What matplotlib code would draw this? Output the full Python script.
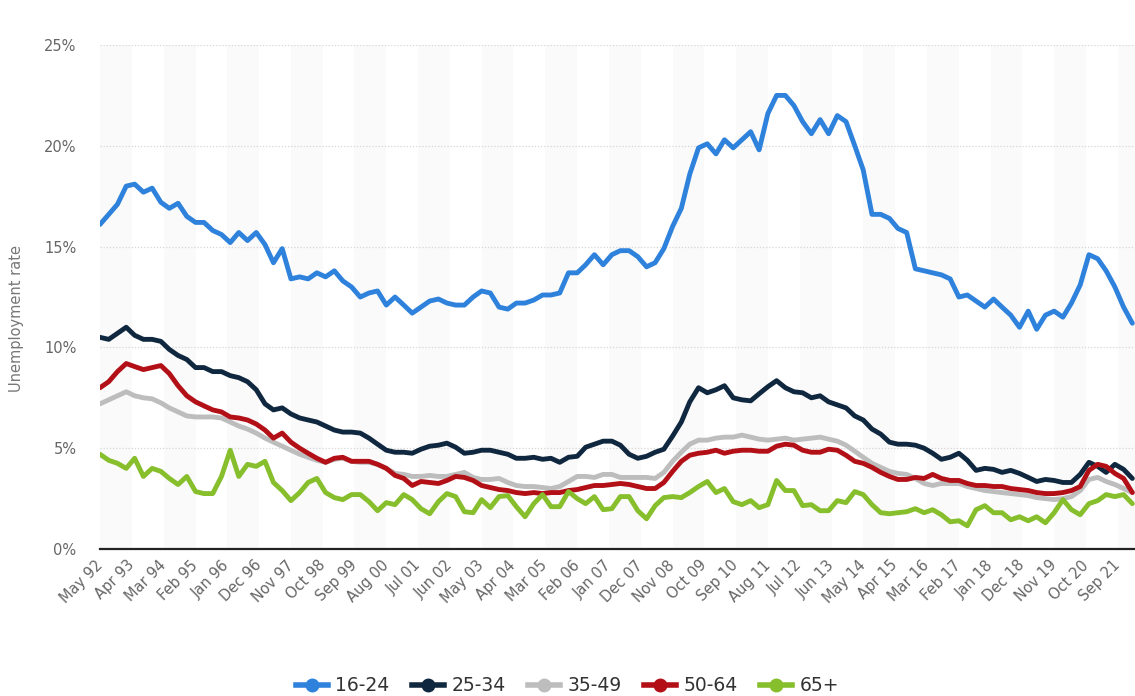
import matplotlib
matplotlib.use('Agg')
import matplotlib.pyplot as plt
import matplotlib.dates as mdates
from matplotlib.lines import Line2D
import pandas as pd

# Unemployment rate in % by age group, read every third month from May 1992
age_16_24 = [16.1, 16.6, 17.1, 18.0, 18.1, 17.7, 17.9, 17.2, 16.9, 17.15, 16.5, 16.2, 16.2, 15.8, 15.6, 15.2, 15.7, 15.3, 15.7, 15.1,
             14.2, 14.9, 13.4, 13.5, 13.4, 13.7, 13.5, 13.8, 13.3, 13.0, 12.5, 12.7, 12.8, 12.1, 12.5, 12.1, 11.7, 12.0, 12.3, 12.4,
             12.2, 12.1, 12.1, 12.5, 12.8, 12.7, 12.0, 11.9, 12.2, 12.2, 12.35, 12.6, 12.6, 12.7, 13.7, 13.7, 14.1, 14.6, 14.1, 14.6,
             14.8, 14.8, 14.5, 14.0, 14.2, 14.9, 16.0, 16.9, 18.6, 19.9, 20.1, 19.6, 20.3, 19.9, 20.3, 20.7, 19.8, 21.6, 22.5, 22.5,
             22.0, 21.2, 20.6, 21.3, 20.6, 21.5, 21.2, 20.0, 18.8, 16.6, 16.6, 16.4, 15.9, 15.7, 13.9, 13.8, 13.7, 13.6, 13.4, 12.5,
             12.6, 12.3, 12.0, 12.4, 12.0, 11.6, 11.0, 11.8, 10.9, 11.6, 11.8, 11.5, 12.2, 13.1, 14.6, 14.4, 13.8, 13.0, 12.0, 11.2]
age_25_34 = [10.5, 10.4, 10.7, 11.0, 10.6, 10.4, 10.4, 10.3, 9.9, 9.6, 9.4, 9.0, 9.0, 8.8, 8.8, 8.6, 8.5, 8.3, 7.9, 7.2,
             6.9, 7.0, 6.7, 6.5, 6.4, 6.3, 6.1, 5.9, 5.8, 5.8, 5.75, 5.5, 5.2, 4.9, 4.8, 4.8, 4.75, 4.95, 5.1, 5.15,
             5.25, 5.05, 4.75, 4.8, 4.9, 4.9, 4.8, 4.7, 4.5, 4.5, 4.55, 4.45, 4.5, 4.3, 4.55, 4.6, 5.05, 5.2, 5.35, 5.35,
             5.15, 4.7, 4.5, 4.6, 4.8, 4.95, 5.6, 6.3, 7.3, 8.0, 7.75, 7.9, 8.1, 7.5, 7.4, 7.35, 7.7, 8.05, 8.35, 8.0,
             7.8, 7.75, 7.5, 7.6, 7.3, 7.15, 7.0, 6.6, 6.4, 5.95, 5.7, 5.3, 5.2, 5.2, 5.15, 5.0, 4.75, 4.45, 4.55, 4.75,
             4.4, 3.9, 4.0, 3.95, 3.8, 3.9, 3.75, 3.55, 3.35, 3.45, 3.4, 3.3, 3.3, 3.7, 4.3, 4.1, 3.8, 4.2, 3.95, 3.5]
age_35_49 = [7.2, 7.4, 7.6, 7.8, 7.6, 7.5, 7.45, 7.25, 7.0, 6.8, 6.6, 6.55, 6.55, 6.55, 6.5, 6.3, 6.1, 5.95, 5.75, 5.5,
             5.3, 5.1, 4.9, 4.7, 4.55, 4.4, 4.3, 4.45, 4.5, 4.35, 4.3, 4.3, 4.2, 4.0, 3.75, 3.7, 3.6, 3.6, 3.65, 3.6,
             3.6, 3.7, 3.8, 3.55, 3.45, 3.45, 3.5, 3.3, 3.15, 3.1, 3.1, 3.05, 3.0, 3.1, 3.35, 3.6, 3.6, 3.55, 3.7, 3.7,
             3.55, 3.55, 3.55, 3.55, 3.5, 3.8, 4.35, 4.8, 5.2, 5.4, 5.4, 5.5, 5.55, 5.55, 5.65, 5.55, 5.45, 5.4, 5.45, 5.5,
             5.4, 5.45, 5.5, 5.55, 5.45, 5.35, 5.15, 4.85, 4.55, 4.25, 4.05, 3.85, 3.75, 3.7, 3.5, 3.25, 3.15, 3.25, 3.25, 3.25,
             3.1, 3.0, 2.9, 2.85, 2.8, 2.75, 2.7, 2.65, 2.55, 2.5, 2.45, 2.5, 2.6, 2.9, 3.45, 3.55, 3.35, 3.2, 3.0, 2.8]
age_50_64 = [8.0, 8.3, 8.8, 9.2, 9.05, 8.9, 9.0, 9.1, 8.7, 8.1, 7.6, 7.3, 7.1, 6.9, 6.8, 6.55, 6.5, 6.4, 6.2, 5.9,
             5.5, 5.75, 5.3, 5.0, 4.75, 4.5, 4.3, 4.5, 4.55, 4.35, 4.35, 4.35, 4.2, 4.0, 3.65, 3.5, 3.15, 3.35, 3.3, 3.25,
             3.4, 3.6, 3.55, 3.4, 3.15, 3.05, 2.95, 2.9, 2.8, 2.75, 2.8, 2.75, 2.8, 2.8, 2.9, 2.95, 3.05, 3.15, 3.15, 3.2,
             3.25, 3.2, 3.1, 3.0, 3.0, 3.3, 3.85, 4.35, 4.65, 4.75, 4.8, 4.9, 4.75, 4.85, 4.9, 4.9, 4.85, 4.85, 5.1, 5.2,
             5.15, 4.9, 4.8, 4.8, 4.95, 4.9, 4.65, 4.35, 4.25, 4.05, 3.8, 3.6, 3.45, 3.45, 3.55, 3.5, 3.7, 3.5, 3.4, 3.4,
             3.25, 3.15, 3.15, 3.1, 3.1, 3.0, 2.95, 2.9, 2.8, 2.75, 2.75, 2.8, 2.9, 3.1, 3.9, 4.2, 4.1, 3.75, 3.5, 2.8]
age_65_plus = [4.7, 4.4, 4.25, 4.0, 4.5, 3.6, 4.0, 3.85, 3.5, 3.2, 3.6, 2.85, 2.75, 2.75, 3.6, 4.9, 3.6, 4.2, 4.1, 4.35,
               3.3, 2.9, 2.4, 2.8, 3.3, 3.5, 2.8, 2.55, 2.45, 2.7, 2.7, 2.35, 1.9, 2.3, 2.2, 2.7, 2.45, 2.0, 1.75, 2.35,
               2.75, 2.6, 1.85, 1.8, 2.45, 2.05, 2.6, 2.65, 2.1, 1.6, 2.25, 2.7, 2.1, 2.1, 2.85, 2.5, 2.25, 2.6, 1.95, 2.0,
               2.6, 2.6, 1.9, 1.5, 2.15, 2.55, 2.6, 2.55, 2.8, 3.1, 3.35, 2.8, 3.0, 2.35, 2.2, 2.4, 2.05, 2.2, 3.4, 2.9,
               2.9, 2.15, 2.2, 1.9, 1.9, 2.4, 2.3, 2.85, 2.7, 2.2, 1.8, 1.75, 1.8, 1.85, 2.0, 1.8, 1.95, 1.7, 1.35, 1.4,
               1.15, 1.95, 2.15, 1.8, 1.8, 1.45, 1.6, 1.4, 1.6, 1.3, 1.8, 2.45, 1.95, 1.7, 2.25, 2.4, 2.7, 2.6, 2.7, 2.25]

series_labels = ['16-24', '25-34', '35-49', '50-64', '65+']
series_values = [age_16_24, age_25_34, age_35_49, age_50_64, age_65_plus]
colors = ['#2e82dc', '#10283f', '#bdbdbd', '#b30f17', '#86be2c']

dates = pd.date_range('1992-05-01', periods=len(age_16_24), freq='3MS')
tick_dates = pd.date_range('1992-05-01', '2021-09-01', freq='11MS')
x_end = pd.Timestamp('2022-03-01')

fig = plt.figure(figsize=(11.35, 6.96), dpi=100)
ax = fig.add_axes([0.0881, 0.2112, 0.9119, 0.7241])

# alternating column bands between ticks (very faint)
for k in range(0, len(tick_dates), 2):
    right = tick_dates[k + 1] if k + 1 < len(tick_dates) else x_end
    ax.axvspan(tick_dates[k], right, color='#fafafa', zorder=0, lw=0)

for label, values, color in zip(series_labels, series_values, colors):
    ax.plot(dates, values, color=color, lw=3.5, label=label, solid_joinstyle='round',
            solid_capstyle='round', zorder=3)

ax.set_xlim(dates[0], x_end)
ax.set_ylim(0, 25)
ax.set_yticks([0, 5, 10, 15, 20, 25])
ax.set_yticklabels(['0%', '5%', '10%', '15%', '20%', '25%'])
ax.yaxis.grid(True, linestyle=(0, (1, 1.5)), color='#d6d6d6', lw=0.9, zorder=1)
ax.set_axisbelow(True)

ax.set_xticks(tick_dates)
ax.xaxis.set_major_formatter(mdates.DateFormatter('%b %y'))
for lbl in ax.get_xticklabels():
    lbl.set_rotation(45)
    lbl.set_ha('right')
    lbl.set_va('center')
    lbl.set_rotation_mode('anchor')

ax.tick_params(axis='x', length=0, pad=10, labelsize=10.5, labelcolor='#666666')
ax.tick_params(axis='y', length=0, pad=17, labelsize=10.5, labelcolor='#666666')

for side in ['top', 'right', 'left']:
    ax.spines[side].set_visible(False)
ax.spines['bottom'].set_color('#222222')
ax.spines['bottom'].set_linewidth(1.6)
ax.spines['bottom'].set_zorder(4)

ax.set_ylabel('Unemployment rate', fontsize=10.5, color='#777777')
ax.yaxis.set_label_coords(-0.073, 0.458)

handles = [Line2D([0], [0], color=c, lw=4, marker='o', markersize=9, label=l)
           for l, c in zip(series_labels, colors)]
fig.legend(handles=handles, loc='center', bbox_to_anchor=(0.5, 0.0144), ncol=5,
           frameon=False, fontsize=13.5, handlelength=1.7, handletextpad=0.4,
           columnspacing=1.2, labelcolor='#333333')

fig.savefig('out.png', dpi=100)
